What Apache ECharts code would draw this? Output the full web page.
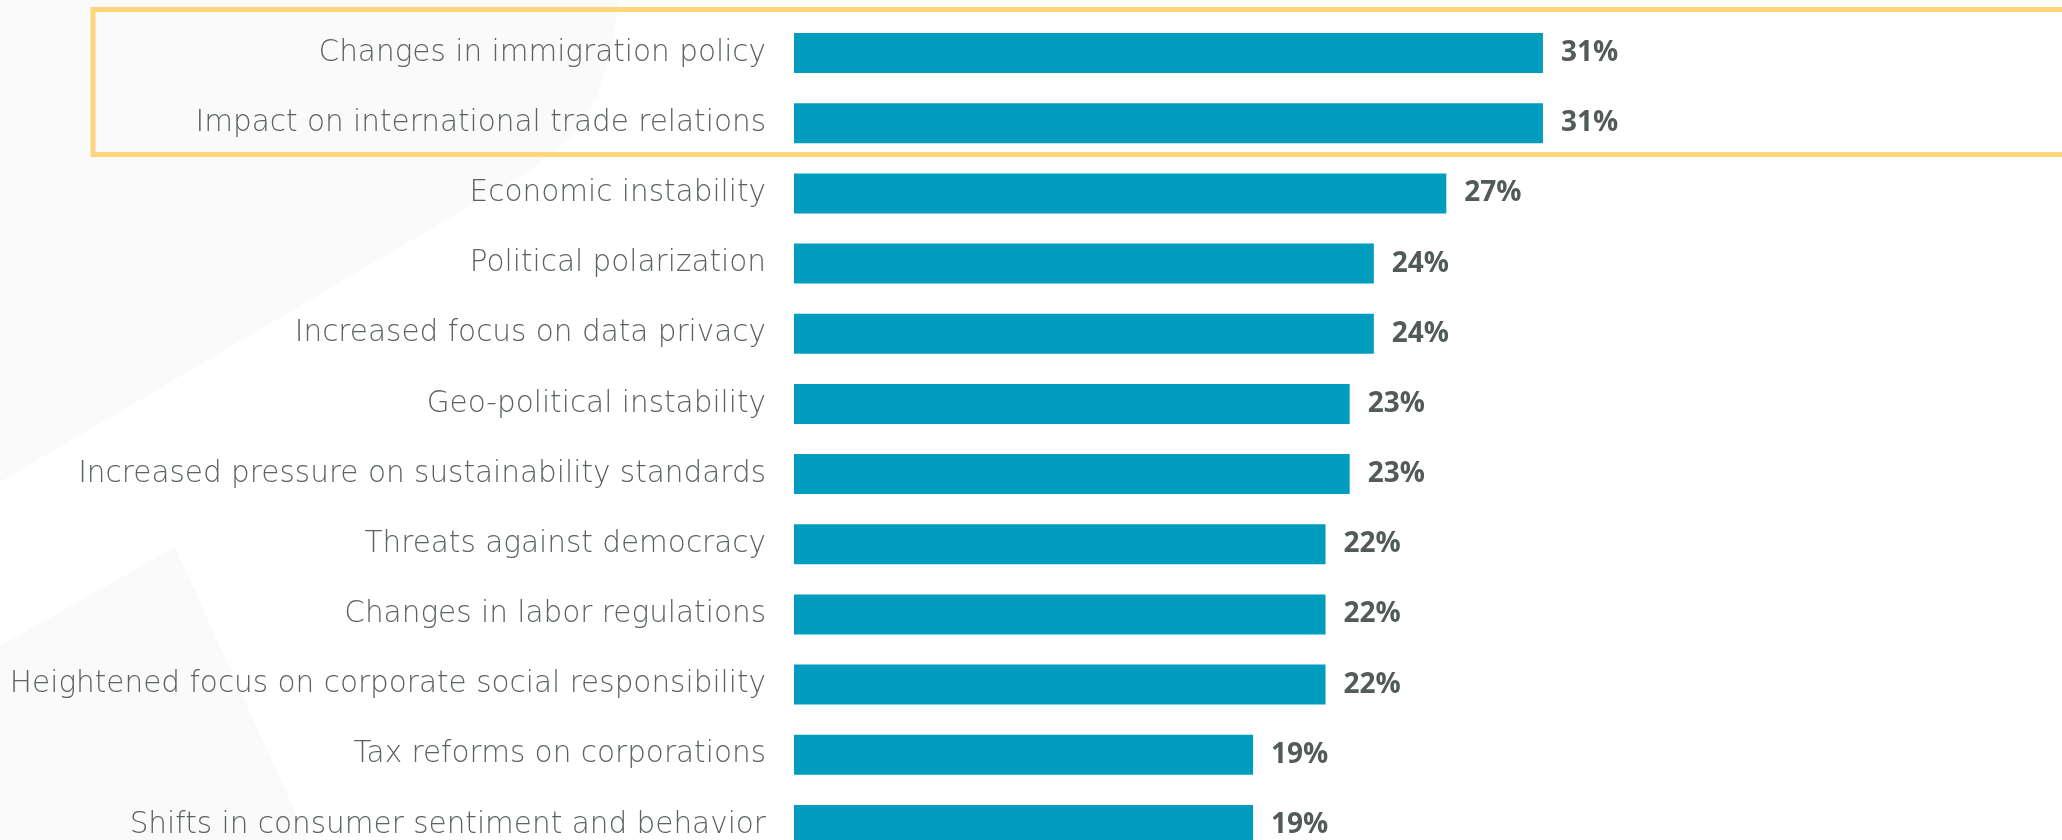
<!DOCTYPE html>
<html>
<head>
<meta charset="utf-8">
<script src="https://cdn.jsdelivr.net/npm/echarts@6/dist/echarts.min.js"></script>
<style>
  html, body { margin: 0; padding: 0; background: #ffffff; }
  #chart { width: 2062px; height: 840px; }
</style>
</head>
<body>
<div id="chart"></div>
<script>
const categories = [
  "Changes in immigration policy",
  "Impact on international trade relations",
  "Economic instability",
  "Political polarization",
  "Increased focus on data privacy",
  "Geo-political instability",
  "Increased pressure on sustainability standards",
  "Threats against democracy",
  "Changes in labor regulations",
  "Heightened focus on corporate social responsibility",
  "Tax reforms on corporations",
  "Shifts in consumer sentiment and behavior"
];
const values = [31, 31, 27, 24, 24, 23, 23, 22, 22, 22, 19, 19];

const chart = echarts.init(document.getElementById('chart'), null, { renderer: 'canvas' });

const option = {
  backgroundColor: '#ffffff',
  animation: false,
  graphic: [
    {
      type: 'polygon',
      z: -10,
      shape: { points: [[0, 0], [618, 0], [613, 45], [598, 95], [570, 138], [528, 172], [480, 200], [0, 482]] },
      style: { fill: '#fafafa' },
      silent: true
    },
    {
      type: 'polygon',
      z: -10,
      shape: { points: [[0, 646], [175, 547], [308, 840], [0, 840]] },
      style: { fill: '#fafafa' },
      silent: true
    },
    {
      type: 'rect',
      z: 10,
      shape: { x: 93, y: 9.5, width: 2000, height: 145 },
      style: { fill: 'none', stroke: '#ffd47a', lineWidth: 5 },
      silent: true
    }
  ],
  grid: {
    left: 794,
    top: 18,
    width: 1208,
    height: 842,
    outerBoundsMode: 'none',
    containLabel: false
  },
  xAxis: {
    type: 'value',
    min: 0,
    max: 50,
    show: false,
    splitLine: { show: false }
  },
  yAxis: {
    type: 'category',
    data: categories,
    inverse: true,
    axisLine: { show: false },
    axisTick: { show: false },
    splitLine: { show: false },
    axisLabel: {
      margin: 28,
      fontFamily: 'DejaVu Sans',
      fontWeight: 200,
      fontSize: 29.5,
      color: '#5a6361',
      align: 'right',
      padding: [8, 0, 0, 0]
    }
  },
  series: [
    {
      type: 'bar',
      data: values,
      barWidth: 40,
      itemStyle: { color: '#009dbf' },
      label: {
        show: true,
        position: 'right',
        distance: 18,
        formatter: '{c}%',
        fontFamily: 'Open Sans',
        fontWeight: 'bold',
        fontSize: 28,
        color: '#535b59'
      }
    }
  ]
};

chart.setOption(option);
</script>
</body>
</html>
